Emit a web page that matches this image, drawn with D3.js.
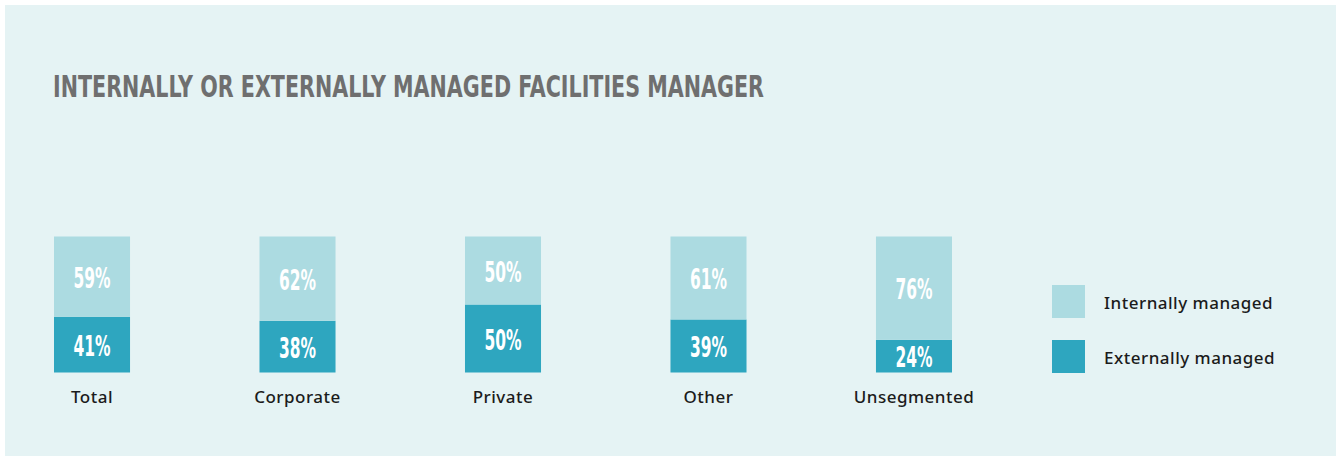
<!DOCTYPE html>
<html lang="en">
<head>
<meta charset="utf-8">
<title>Internally or externally managed facilities manager</title>
<script src="https://cdn.jsdelivr.net/npm/d3@7"></script>
<style>
body { margin:0; background:#fff; }
.title { font-family:"DejaVu Sans Condensed","Roboto Condensed",Roboto,sans-serif; font-weight:bold; fill:#6f6f6f; }
.pct { font-family:"DejaVu Sans Condensed","Roboto Condensed",Roboto,sans-serif; font-weight:bold; fill:#fff; }
.cat, .leg { font-family:"Noto Sans",Lato,sans-serif; font-size:17px; fill:#1b1b1b; font-weight:500; letter-spacing:0.5px; }
</style>
</head>
<body>
<div id="chart1"></div>
<script>
// data
var categories = ["Total", "Corporate", "Private", "Other", "Unsegmented"];
var internally = [59, 62, 50, 61, 76];
var externally = [41, 38, 50, 39, 24];
var seriesNames = ["Internally managed", "Externally managed"];
var titleText = "INTERNALLY OR EXTERNALLY MANAGED FACILITIES MANAGER";

(function(){
	var W = 1338, H = 457;
	var colors = {"Internally managed":"#acdbe1", "Externally managed":"#2ea6bf"};

	var svg = d3.select("#chart1").append("svg")
		.attr("width", W).attr("height", H);

	// panel
	svg.append("rect").attr("x", 5).attr("y", 5)
		.attr("width", 1331).attr("height", 451).attr("fill", "#e5f3f4");

	svg.append("text").attr("class", "title")
		.attr("x", 53).attr("y", 97)
		.attr("font-size", 31)
		.attr("textLength", 711).attr("lengthAdjust", "spacingAndGlyphs")
		.text(titleText);

	var rows = categories.map(function(c, i){
		return {cat:c, "Internally managed":internally[i], "Externally managed":externally[i]};
	});
	var stack = d3.stack().keys(["Externally managed", "Internally managed"]);
	var series = stack(rows);

	var x = d3.scaleBand().domain(categories).range([54, 952]).paddingInner(0.63).paddingOuter(0);
	var y = d3.scaleLinear().domain([0, 100]).range([372.5, 236.5]);

	var g = svg.append("g");
	series.forEach(function(s){
		g.append("g").selectAll("rect").data(s).enter().append("rect")
			.attr("x", function(d){ return x(d.data.cat); })
			.attr("width", x.bandwidth())
			.attr("y", function(d){ return y(d[1]); })
			.attr("height", function(d){ return y(d[0]) - y(d[1]); })
			.attr("fill", colors[s.key]);
		g.append("g").selectAll("text").data(s).enter().append("text")
			.attr("class", "pct")
			.attr("x", function(d){ return x(d.data.cat) + x.bandwidth() / 2; })
			.attr("y", function(d){ return (y(d[0]) + y(d[1])) / 2 + 11; })
			.attr("text-anchor", "middle")
			.attr("font-size", 29)
			.attr("textLength", 37).attr("lengthAdjust", "spacingAndGlyphs")
			.text(function(d){ return (d[1] - d[0]) + "%"; });
	});

	// category labels
	var xAxis = d3.axisBottom(x).tickSize(0).tickPadding(0);
	var ax = svg.append("g").attr("transform", "translate(0,391)").call(xAxis);
	ax.select(".domain").remove();
	ax.selectAll("text").attr("class", "cat").attr("fill", null).attr("dy", null).attr("y", 12)
		.style("font-size", "17px");

	// legend
	var leg = svg.append("g").attr("transform", "translate(1052,285)");
	seriesNames.forEach(function(n, i){
		var row = leg.append("g").attr("transform", "translate(0," + (i * 55) + ")");
		row.append("rect").attr("width", 33).attr("height", 33).attr("fill", colors[n]);
		row.append("text").attr("class", "leg").attr("x", 52).attr("y", 24).text(n);
	});
})();
</script>
</body>
</html>
